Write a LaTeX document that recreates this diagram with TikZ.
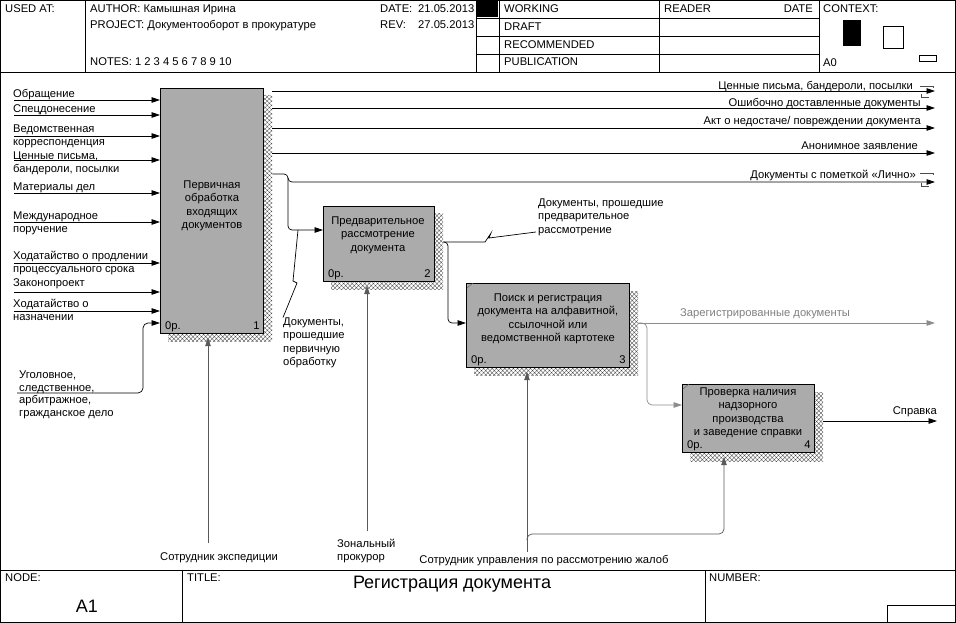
\documentclass[tikz,border=0pt]{standalone}
\usepackage{fontspec}
\setmainfont{Liberation Sans}
\usetikzlibrary{arrows.meta,patterns.meta,calc}
\begin{document}
\begin{tikzpicture}[x=1pt,y=-1pt,
  every node/.style={inner sep=0pt, font=\fontsize{11.2}{13.3}\selectfont},
  frameline/.style={line width=0.8pt},
  thinline/.style={line width=0.7pt},
  conn/.style={line width=0.7pt, -{Triangle[length=8.5pt,width=5.5pt]}},
  mech/.style={conn, black!65},
  grayconn/.style={conn, black!45},
  box/.style={draw=black, line width=0.7pt, fill=black!33, anchor=north west},
  shad/.style={anchor=north west, pattern={Hatch[angle=45,distance=3pt,line width=0.35pt]}, pattern color=black!70},
  lbl/.style={anchor=north west, align=left},
  rlbl/.style={anchor=north east, align=right},
  btxt/.style={anchor=north, align=center, font=\fontsize{11.2}{13.5}\selectfont},
  bigtxt/.style={font=\fontsize{18}{20}\selectfont},
  tunnel/.style={line width=0.5pt, black!70},
]
\useasboundingbox (0,0) rectangle (956,623);
\fill[white] (0,0) rectangle (956,623);

% ---------- header ----------
\draw[thinline] (0,72) -- (956,72);
\draw[thinline] (85,0) -- (85,72);
\draw[thinline] (476,0) -- (476,72);
\draw[thinline] (499,0) -- (499,72);
\draw[thinline] (659,0) -- (659,72);
\draw[thinline] (819,0) -- (819,72);
\draw[thinline] (476,18) -- (819,18);
\draw[thinline] (476,36) -- (819,36);
\draw[thinline] (476,54) -- (819,54);
\fill (477,1) rectangle (498,17);
\fill (843,20) rectangle (861,46);
\draw[thinline] (883,26) rectangle (903,48);
\draw[thinline] (919,55) rectangle (936,61);

\node[lbl] (hused) at (5,4.5) {USED AT:};
\node[lbl] (hauth) at (90,4.5) {AUTHOR: Камышная Ирина};
\node[lbl] (hproj) at (90,20.5) {PROJECT: Документооборот в прокуратуре};
\node[lbl] (hnotes) at (90,57.5) {NOTES: 1 2 3 4 5 6 7 8 9 10};
\node[lbl] (hdate) at (380,4.5) {DATE:};
\node[lbl] (hdatev) at (418,4.5) {21.05.2013};
\node[lbl] (hrev) at (380,20.5) {REV:};
\node[lbl] (hrevv) at (418,20.5) {27.05.2013};
\node[lbl] (hwork) at (504,4.5) {WORKING};
\node[lbl] (hdraft) at (504,22.5) {DRAFT};
\node[lbl] (hrec) at (504,40.5) {RECOMMENDED};
\node[lbl] (hpub) at (504,57.5) {PUBLICATION};
\node[lbl] (hread) at (664,4.5) {READER};
\node[rlbl] (hrdate) at (813,4.5) {DATE};
\node[lbl] (hctx) at (823,4.5) {CONTEXT:};
\node[lbl] (ha0) at (823,58.5) {A0};

% ---------- footer ----------
\draw[thinline] (0,570) -- (956,570);
\draw[thinline] (182,570) -- (182,623);
\draw[thinline] (705,570) -- (705,623);
\draw[thinline] (887,623) -- (887,605) -- (956,605);
\node[lbl] (fnode) at (5,573.5) {NODE:};
\node[lbl] (ftitle) at (187,573.5) {TITLE:};
\node[lbl] (fnum) at (709,573.5) {NUMBER:};
\node[bigtxt] (fa1) at (87,606) {A1};
\node[bigtxt] (ftit) at (452,584) {Регистрация документа};

% ---------- shadows ----------
\node[shad, minimum width=104pt, minimum height=246pt] (s1) at (168,95) {};
\node[shad, minimum width=112pt, minimum height=76pt] (s2) at (331,213) {};
\node[shad, minimum width=164pt, minimum height=84pt] (s3) at (474,291) {};
\node[shad, minimum width=133pt, minimum height=69pt] (s4) at (690,392) {};

% ---------- boxes ----------
\node[box, minimum width=103pt, minimum height=245pt] (b1) at (160,88) {};
\node[box, minimum width=111pt, minimum height=75pt] (b2) at (323,206) {};
\node[box, minimum width=163pt, minimum height=84pt] (b3) at (466,283) {};
\node[box, minimum width=132pt, minimum height=68pt] (b4) at (682,384) {};

\node[btxt] (t1) at (212,180.5) {Первичная\\обработка\\входящих\\документов};
\node[btxt] (t2) at (378,216.5) {Предварительное\\рассмотрение\\документа};
\node[btxt] (t3) at (548,293.5) {Поиск и регистрация\\документа на алфавитной,\\ссылочной или\\ведомственной картотеке};
\node[btxt] (t4) at (748,387.5) {Проверка наличия\\надзорного\\производства\\и заведение справки};

\foreach \b/\n in {b1/1,b2/2,b3/3,b4/4}{
  \node[anchor=south west] (\b c) at ($(\b.south west)+(5,-2)$) {0р.};
  \node[anchor=south east] (\b n) at ($(\b.south east)+(-4,-4.3)$) {\n};
}
\draw[line width=0.5pt, black!60] ($(b3.north west)+(1,5)$) -- ++(6,-5);
\draw[line width=0.5pt, black!60] ($(b4.north west)+(1,5)$) -- ++(6,-5);

% ---------- inputs ----------
\foreach \y/\n in {100/1,115/2,136/3,160/4,193/5,222/6,263/7,292/8,311/9}{
  \coordinate (in\n) at (14,\y);
  \draw[conn] (in\n) -- (in\n -| b1.west);
}
\coordinate (in10) at (17,393);
\draw[conn, rounded corners=5pt] (in10) -- (143,393) -- (143,323) -- (b1.west |- 0,323);

\node[lbl] (l1) at (13,89.5) {Обращение};
\node[lbl] (l2) at (13,104.5) {Спецдонесение};
\node[lbl] (l3) at (13,124.5) {Ведомственная\\корреспонденция};
\node[lbl] (l4) at (13,151.5) {Ценные письма,\\бандероли, посылки};
\node[lbl] (l5) at (13,182.5) {Материалы дел};
\node[lbl] (l6) at (13,211.5) {Международное\\поручение};
\node[lbl] (l7) at (13,250.5) {Ходатайство о продлении\\процессуального срока};
\node[lbl] (l8) at (13,278.5) {Законопроект};
\node[lbl] (l9) at (13,298.5) {Ходатайство о\\назначении};
\node[lbl, font=\fontsize{11.2}{12.7}\selectfont] (l10) at (19,370.5) {Уголовное,\\следственное,\\арбитражное,\\гражданское дело};

% ---------- outputs of box 1 ----------
\coordinate (o1) at (935,91);
\coordinate (o2) at (935,108);
\coordinate (o3) at (935,128);
\coordinate (o4) at (935,153);
\coordinate (o5) at (935,182);
\draw[conn] (s1.east |- o1) -- (o1);
\draw[conn] (s1.east |- o2) -- (o2);
\draw[conn] (s1.east |- o3) -- (o3);
\draw[conn] (s1.east |- o4) -- (o4);
\draw[conn, rounded corners=4pt] (s1.east |- 0,174) -- (288,174) -- (288,182) -- (o5);
\draw[conn, rounded corners=4pt] (288,178) -- (288,230) -- (b2.west |- 0,230);
\draw[tunnel] (920,86) -- (933,86) -- (933,88);
\draw[tunnel] (921,94) -- (921,97) -- (929,97);
\draw[tunnel] (920,173) -- (933,173) -- (933,175);
\draw[tunnel] (921,183) -- (921,186) -- (929,186);

\node[rlbl] (r1) at (913,81.5) {Ценные письма, бандероли, посылки};
\node[rlbl] (r2) at (921,98.5) {Ошибочно доставленные документы};
\node[rlbl] (r3) at (921,116.5) {Акт о недостаче/ повреждении документа};
\node[rlbl] (r4) at (918,141.5) {Анонимное заявление};
\node[rlbl] (r5) at (916,169.5) {Документы с пометкой «Лично»};

\node[lbl] (p1) at (283,317.5) {Документы,\\прошедшие\\первичную\\обработку};
\draw[thinline] (298,230) -- (293,281) -- (297,283) -- (p1.north west);

% ---------- box 2 -> box 3 ----------
\draw[conn, rounded corners=4pt] (s2.east |- 0,242) -- (448,242) -- (448,323) -- (b3.west |- 0,323);
\node[lbl] (p2) at (538,198.5) {Документы, прошедшие\\предварительное\\рассмотрение};
\draw[thinline] (s2.east |- 0,242) -- (485,242) -- (491,233) -- (489,238) -- (536,232);

% ---------- box 3 outputs ----------
\coordinate (o6) at (935,323);
\draw[grayconn] (s3.east |- o6) -- (o6);
\draw[grayconn, rounded corners=5pt] (s3.east |- o6) -- (647,323) -- (647,405) -- (b4.west |- 0,405);
\node[lbl, text=black!50] (r6) at (680,308.5) {Зарегистрированные документы};

% ---------- box 4 output ----------
\coordinate (o7) at (937,421);
\draw[conn] (s4.east |- o7) -- (o7);
\node[rlbl] (r7) at (937,406.5) {Справка};

% ---------- mechanisms ----------
\coordinate (m1) at (208,543);
\coordinate (m2) at (367,531);
\coordinate (m3) at (527,552);
\coordinate (m4) at (527,540);
\draw[mech] (m1) -- ($(b1.south -| m1)+(0,4)$);
\draw[mech] (m2) -- ($(b2.south -| m2)+(0,4)$);
\draw[mech] (m3) -- ($(b3.south -| m3)+(0,4)$);
\draw[mech, rounded corners=5pt] (m4) -- (527,534) -- (724,534) -- ($(b4.south -| 724,0)+(0,4)$);
\node[anchor=north] (ml1) at (219,552.5) {Сотрудник экспедиции};
\node[lbl] (ml2) at (337,538.5) {Зональный\\прокурор};
\node[anchor=north] (ml3) at (544,555.5) {Сотрудник управления по рассмотрению жалоб};

% ---------- frame ----------
\draw[frameline] (0.5,0.5) rectangle (955.5,622.5);
\end{tikzpicture}
\end{document}
